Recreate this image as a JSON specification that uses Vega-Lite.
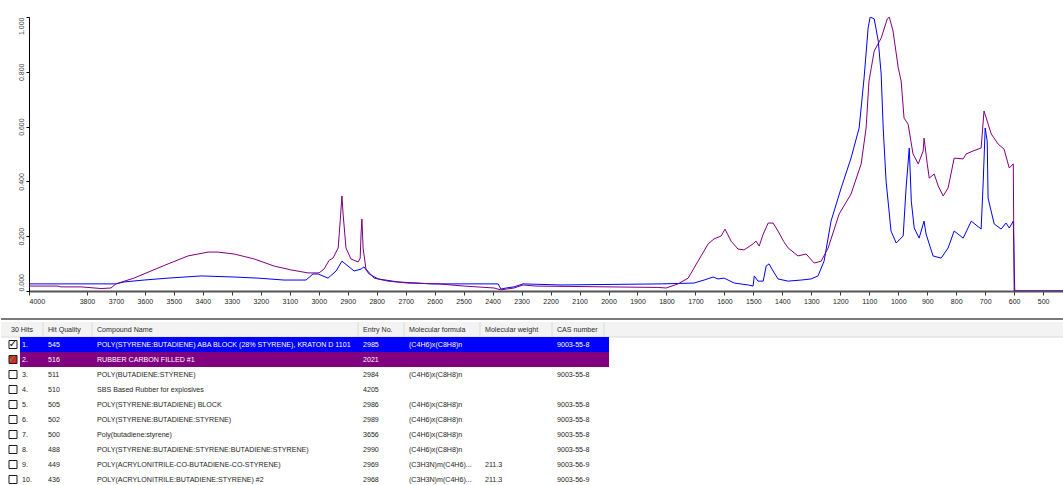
{
  "$schema": "https://vega.github.io/schema/vega-lite/v6.json",
  "background": "white",
  "padding": {"left": 0, "top": 16, "right": 0, "bottom": 0},
  "bounds": "full",
  "spacing": 14,
  "config": {
    "view": {"stroke": null},
    "font": "Liberation Sans",
    "text": {"font": "Liberation Sans", "fontSize": 7.1}
  },
  "datasets": {
    "spectra": [
      {"series": "hit1", "wavenumber": 4000, "absorbance": 0.026},
      {"series": "hit1", "wavenumber": 3751, "absorbance": 0.026},
      {"series": "hit1", "wavenumber": 3700, "absorbance": 0.026},
      {"series": "hit1", "wavenumber": 3672, "absorbance": 0.033},
      {"series": "hit1", "wavenumber": 3603, "absorbance": 0.040},
      {"series": "hit1", "wavenumber": 3520, "absorbance": 0.047},
      {"series": "hit1", "wavenumber": 3406, "absorbance": 0.055},
      {"series": "hit1", "wavenumber": 3292, "absorbance": 0.051},
      {"series": "hit1", "wavenumber": 3210, "absorbance": 0.047},
      {"series": "hit1", "wavenumber": 3120, "absorbance": 0.040},
      {"series": "hit1", "wavenumber": 3044, "absorbance": 0.040},
      {"series": "hit1", "wavenumber": 3020, "absorbance": 0.062},
      {"series": "hit1", "wavenumber": 3002, "absorbance": 0.062},
      {"series": "hit1", "wavenumber": 2968, "absorbance": 0.047},
      {"series": "hit1", "wavenumber": 2940, "absorbance": 0.073},
      {"series": "hit1", "wavenumber": 2920, "absorbance": 0.109},
      {"series": "hit1", "wavenumber": 2899, "absorbance": 0.091},
      {"series": "hit1", "wavenumber": 2878, "absorbance": 0.073},
      {"series": "hit1", "wavenumber": 2854, "absorbance": 0.080},
      {"series": "hit1", "wavenumber": 2844, "absorbance": 0.088},
      {"series": "hit1", "wavenumber": 2826, "absorbance": 0.062},
      {"series": "hit1", "wavenumber": 2795, "absorbance": 0.044},
      {"series": "hit1", "wavenumber": 2726, "absorbance": 0.033},
      {"series": "hit1", "wavenumber": 2612, "absorbance": 0.026},
      {"series": "hit1", "wavenumber": 2381, "absorbance": 0.026},
      {"series": "hit1", "wavenumber": 2371, "absorbance": 0.007},
      {"series": "hit1", "wavenumber": 2353, "absorbance": 0.011},
      {"series": "hit1", "wavenumber": 2326, "absorbance": 0.015},
      {"series": "hit1", "wavenumber": 2295, "absorbance": 0.026},
      {"series": "hit1", "wavenumber": 2164, "absorbance": 0.022},
      {"series": "hit1", "wavenumber": 1818, "absorbance": 0.026},
      {"series": "hit1", "wavenumber": 1705, "absorbance": 0.029},
      {"series": "hit1", "wavenumber": 1670, "absorbance": 0.040},
      {"series": "hit1", "wavenumber": 1639, "absorbance": 0.051},
      {"series": "hit1", "wavenumber": 1622, "absorbance": 0.044},
      {"series": "hit1", "wavenumber": 1601, "absorbance": 0.047},
      {"series": "hit1", "wavenumber": 1566, "absorbance": 0.029},
      {"series": "hit1", "wavenumber": 1518, "absorbance": 0.022},
      {"series": "hit1", "wavenumber": 1501, "absorbance": 0.018},
      {"series": "hit1", "wavenumber": 1497, "absorbance": 0.055},
      {"series": "hit1", "wavenumber": 1484, "absorbance": 0.036},
      {"series": "hit1", "wavenumber": 1466, "absorbance": 0.036},
      {"series": "hit1", "wavenumber": 1456, "absorbance": 0.091},
      {"series": "hit1", "wavenumber": 1446, "absorbance": 0.099},
      {"series": "hit1", "wavenumber": 1432, "absorbance": 0.073},
      {"series": "hit1", "wavenumber": 1415, "absorbance": 0.044},
      {"series": "hit1", "wavenumber": 1380, "absorbance": 0.036},
      {"series": "hit1", "wavenumber": 1335, "absorbance": 0.040},
      {"series": "hit1", "wavenumber": 1301, "absorbance": 0.044},
      {"series": "hit1", "wavenumber": 1277, "absorbance": 0.055},
      {"series": "hit1", "wavenumber": 1256, "absorbance": 0.109},
      {"series": "hit1", "wavenumber": 1232, "absorbance": 0.255},
      {"series": "hit1", "wavenumber": 1197, "absorbance": 0.376},
      {"series": "hit1", "wavenumber": 1163, "absorbance": 0.485},
      {"series": "hit1", "wavenumber": 1135, "absorbance": 0.595},
      {"series": "hit1", "wavenumber": 1118, "absorbance": 0.777},
      {"series": "hit1", "wavenumber": 1104, "absorbance": 0.960},
      {"series": "hit1", "wavenumber": 1097, "absorbance": 1.000},
      {"series": "hit1", "wavenumber": 1083, "absorbance": 0.993},
      {"series": "hit1", "wavenumber": 1069, "absorbance": 0.912},
      {"series": "hit1", "wavenumber": 1059, "absorbance": 0.792},
      {"series": "hit1", "wavenumber": 1052, "absorbance": 0.595},
      {"series": "hit1", "wavenumber": 1042, "absorbance": 0.401},
      {"series": "hit1", "wavenumber": 1025, "absorbance": 0.219},
      {"series": "hit1", "wavenumber": 1007, "absorbance": 0.175},
      {"series": "hit1", "wavenumber": 983, "absorbance": 0.201},
      {"series": "hit1", "wavenumber": 973, "absorbance": 0.376},
      {"series": "hit1", "wavenumber": 962, "absorbance": 0.522},
      {"series": "hit1", "wavenumber": 955, "absorbance": 0.328},
      {"series": "hit1", "wavenumber": 945, "absorbance": 0.230},
      {"series": "hit1", "wavenumber": 928, "absorbance": 0.193},
      {"series": "hit1", "wavenumber": 911, "absorbance": 0.255},
      {"series": "hit1", "wavenumber": 904, "absorbance": 0.208},
      {"series": "hit1", "wavenumber": 880, "absorbance": 0.128},
      {"series": "hit1", "wavenumber": 852, "absorbance": 0.120},
      {"series": "hit1", "wavenumber": 828, "absorbance": 0.157},
      {"series": "hit1", "wavenumber": 807, "absorbance": 0.219},
      {"series": "hit1", "wavenumber": 776, "absorbance": 0.193},
      {"series": "hit1", "wavenumber": 748, "absorbance": 0.255},
      {"series": "hit1", "wavenumber": 714, "absorbance": 0.226},
      {"series": "hit1", "wavenumber": 707, "absorbance": 0.394},
      {"series": "hit1", "wavenumber": 700, "absorbance": 0.595},
      {"series": "hit1", "wavenumber": 693, "absorbance": 0.547},
      {"series": "hit1", "wavenumber": 690, "absorbance": 0.339},
      {"series": "hit1", "wavenumber": 669, "absorbance": 0.245},
      {"series": "hit1", "wavenumber": 645, "absorbance": 0.226},
      {"series": "hit1", "wavenumber": 628, "absorbance": 0.248},
      {"series": "hit1", "wavenumber": 617, "absorbance": 0.230},
      {"series": "hit1", "wavenumber": 603, "absorbance": 0.255},
      {"series": "hit1", "wavenumber": 598, "absorbance": 0.000},
      {"series": "hit1", "wavenumber": 428, "absorbance": 0.000},
      {"series": "hit2", "wavenumber": 4000, "absorbance": 0.018},
      {"series": "hit2", "wavenumber": 3900, "absorbance": 0.018},
      {"series": "hit2", "wavenumber": 3890, "absorbance": 0.015},
      {"series": "hit2", "wavenumber": 3820, "absorbance": 0.015},
      {"series": "hit2", "wavenumber": 3751, "absorbance": 0.009},
      {"series": "hit2", "wavenumber": 3717, "absorbance": 0.011},
      {"series": "hit2", "wavenumber": 3700, "absorbance": 0.026},
      {"series": "hit2", "wavenumber": 3638, "absorbance": 0.047},
      {"series": "hit2", "wavenumber": 3579, "absorbance": 0.073},
      {"series": "hit2", "wavenumber": 3520, "absorbance": 0.099},
      {"series": "hit2", "wavenumber": 3451, "absorbance": 0.128},
      {"series": "hit2", "wavenumber": 3382, "absorbance": 0.142},
      {"series": "hit2", "wavenumber": 3348, "absorbance": 0.142},
      {"series": "hit2", "wavenumber": 3292, "absorbance": 0.135},
      {"series": "hit2", "wavenumber": 3223, "absorbance": 0.117},
      {"series": "hit2", "wavenumber": 3154, "absorbance": 0.091},
      {"series": "hit2", "wavenumber": 3096, "absorbance": 0.077},
      {"series": "hit2", "wavenumber": 3037, "absorbance": 0.066},
      {"series": "hit2", "wavenumber": 2999, "absorbance": 0.066},
      {"series": "hit2", "wavenumber": 2982, "absorbance": 0.080},
      {"series": "hit2", "wavenumber": 2964, "absorbance": 0.112},
      {"series": "hit2", "wavenumber": 2951, "absorbance": 0.120},
      {"series": "hit2", "wavenumber": 2933, "absorbance": 0.157},
      {"series": "hit2", "wavenumber": 2926, "absorbance": 0.255},
      {"series": "hit2", "wavenumber": 2920, "absorbance": 0.347},
      {"series": "hit2", "wavenumber": 2916, "absorbance": 0.281},
      {"series": "hit2", "wavenumber": 2906, "absorbance": 0.157},
      {"series": "hit2", "wavenumber": 2889, "absorbance": 0.117},
      {"series": "hit2", "wavenumber": 2864, "absorbance": 0.106},
      {"series": "hit2", "wavenumber": 2857, "absorbance": 0.120},
      {"series": "hit2", "wavenumber": 2854, "absorbance": 0.208},
      {"series": "hit2", "wavenumber": 2851, "absorbance": 0.263},
      {"series": "hit2", "wavenumber": 2847, "absorbance": 0.157},
      {"series": "hit2", "wavenumber": 2837, "absorbance": 0.080},
      {"series": "hit2", "wavenumber": 2809, "absorbance": 0.047},
      {"series": "hit2", "wavenumber": 2761, "absorbance": 0.036},
      {"series": "hit2", "wavenumber": 2692, "absorbance": 0.029},
      {"series": "hit2", "wavenumber": 2588, "absorbance": 0.026},
      {"series": "hit2", "wavenumber": 2498, "absorbance": 0.018},
      {"series": "hit2", "wavenumber": 2395, "absorbance": 0.011},
      {"series": "hit2", "wavenumber": 2371, "absorbance": 0.004},
      {"series": "hit2", "wavenumber": 2353, "absorbance": 0.007},
      {"series": "hit2", "wavenumber": 2326, "absorbance": 0.011},
      {"series": "hit2", "wavenumber": 2295, "absorbance": 0.022},
      {"series": "hit2", "wavenumber": 2250, "absorbance": 0.018},
      {"series": "hit2", "wavenumber": 1830, "absorbance": 0.013},
      {"series": "hit2", "wavenumber": 1801, "absorbance": 0.011},
      {"series": "hit2", "wavenumber": 1760, "absorbance": 0.026},
      {"series": "hit2", "wavenumber": 1725, "absorbance": 0.047},
      {"series": "hit2", "wavenumber": 1691, "absorbance": 0.109},
      {"series": "hit2", "wavenumber": 1656, "absorbance": 0.172},
      {"series": "hit2", "wavenumber": 1636, "absorbance": 0.190},
      {"series": "hit2", "wavenumber": 1611, "absorbance": 0.201},
      {"series": "hit2", "wavenumber": 1598, "absorbance": 0.226},
      {"series": "hit2", "wavenumber": 1577, "absorbance": 0.182},
      {"series": "hit2", "wavenumber": 1553, "absorbance": 0.153},
      {"series": "hit2", "wavenumber": 1532, "absorbance": 0.150},
      {"series": "hit2", "wavenumber": 1501, "absorbance": 0.172},
      {"series": "hit2", "wavenumber": 1491, "absorbance": 0.182},
      {"series": "hit2", "wavenumber": 1480, "absorbance": 0.164},
      {"series": "hit2", "wavenumber": 1466, "absorbance": 0.208},
      {"series": "hit2", "wavenumber": 1449, "absorbance": 0.248},
      {"series": "hit2", "wavenumber": 1432, "absorbance": 0.248},
      {"series": "hit2", "wavenumber": 1415, "absorbance": 0.219},
      {"series": "hit2", "wavenumber": 1395, "absorbance": 0.180},
      {"series": "hit2", "wavenumber": 1380, "absorbance": 0.157},
      {"series": "hit2", "wavenumber": 1346, "absorbance": 0.128},
      {"series": "hit2", "wavenumber": 1318, "absorbance": 0.135},
      {"series": "hit2", "wavenumber": 1290, "absorbance": 0.102},
      {"series": "hit2", "wavenumber": 1266, "absorbance": 0.109},
      {"series": "hit2", "wavenumber": 1242, "absorbance": 0.157},
      {"series": "hit2", "wavenumber": 1204, "absorbance": 0.281},
      {"series": "hit2", "wavenumber": 1163, "absorbance": 0.354},
      {"series": "hit2", "wavenumber": 1128, "absorbance": 0.464},
      {"series": "hit2", "wavenumber": 1111, "absorbance": 0.595},
      {"series": "hit2", "wavenumber": 1101, "absorbance": 0.766},
      {"series": "hit2", "wavenumber": 1083, "absorbance": 0.876},
      {"series": "hit2", "wavenumber": 1059, "absorbance": 0.923},
      {"series": "hit2", "wavenumber": 1038, "absorbance": 0.993},
      {"series": "hit2", "wavenumber": 1031, "absorbance": 1.000},
      {"series": "hit2", "wavenumber": 1018, "absorbance": 0.949},
      {"series": "hit2", "wavenumber": 1000, "absorbance": 0.814},
      {"series": "hit2", "wavenumber": 990, "absorbance": 0.766},
      {"series": "hit2", "wavenumber": 980, "absorbance": 0.631},
      {"series": "hit2", "wavenumber": 966, "absorbance": 0.609},
      {"series": "hit2", "wavenumber": 949, "absorbance": 0.500},
      {"series": "hit2", "wavenumber": 931, "absorbance": 0.464},
      {"series": "hit2", "wavenumber": 914, "absorbance": 0.511},
      {"series": "hit2", "wavenumber": 911, "absorbance": 0.558},
      {"series": "hit2", "wavenumber": 900, "absorbance": 0.464},
      {"series": "hit2", "wavenumber": 893, "absorbance": 0.412},
      {"series": "hit2", "wavenumber": 876, "absorbance": 0.427},
      {"series": "hit2", "wavenumber": 862, "absorbance": 0.383},
      {"series": "hit2", "wavenumber": 845, "absorbance": 0.347},
      {"series": "hit2", "wavenumber": 828, "absorbance": 0.376},
      {"series": "hit2", "wavenumber": 807, "absorbance": 0.485},
      {"series": "hit2", "wavenumber": 776, "absorbance": 0.482},
      {"series": "hit2", "wavenumber": 766, "absorbance": 0.500},
      {"series": "hit2", "wavenumber": 742, "absorbance": 0.511},
      {"series": "hit2", "wavenumber": 714, "absorbance": 0.522},
      {"series": "hit2", "wavenumber": 704, "absorbance": 0.657},
      {"series": "hit2", "wavenumber": 693, "absorbance": 0.620},
      {"series": "hit2", "wavenumber": 679, "absorbance": 0.573},
      {"series": "hit2", "wavenumber": 655, "absorbance": 0.536},
      {"series": "hit2", "wavenumber": 635, "absorbance": 0.518},
      {"series": "hit2", "wavenumber": 617, "absorbance": 0.449},
      {"series": "hit2", "wavenumber": 603, "absorbance": 0.464},
      {"series": "hit2", "wavenumber": 600, "absorbance": 0.000},
      {"series": "hit2", "wavenumber": 428, "absorbance": 0.000}
    ],
    "hits": [
      {"hit": 1, "quality": "545", "name": "POLY(STYRENE:BUTADIENE) ABA BLOCK (28% STYRENE), KRATON D 1101", "entry": "2985", "formula": "(C4H6)x(C8H8)n", "weight": "", "cas": "9003-55-8"},
      {"hit": 2, "quality": "516", "name": "RUBBER CARBON FILLED #1", "entry": "2021", "formula": "", "weight": "", "cas": ""},
      {"hit": 3, "quality": "511", "name": "POLY(BUTADIENE:STYRENE)", "entry": "2984", "formula": "(C4H6)x(C8H8)n", "weight": "", "cas": "9003-55-8"},
      {"hit": 4, "quality": "510", "name": "SBS Based Rubber for explosives", "entry": "4205", "formula": "", "weight": "", "cas": ""},
      {"hit": 5, "quality": "505", "name": "POLY(STYRENE:BUTADIENE) BLOCK", "entry": "2986", "formula": "(C4H6)x(C8H8)n", "weight": "", "cas": "9003-55-8"},
      {"hit": 6, "quality": "502", "name": "POLY(STYRENE:BUTADIENE:STYRENE)", "entry": "2989", "formula": "(C4H6)x(C8H8)n", "weight": "", "cas": "9003-55-8"},
      {"hit": 7, "quality": "500", "name": "Poly(butadiene:styrene)", "entry": "3656", "formula": "(C4H6)x(C8H8)n", "weight": "", "cas": "9003-55-8"},
      {"hit": 8, "quality": "488", "name": "POLY(STYRENE:BUTADIENE:STYRENE:BUTADIENE:STYRENE)", "entry": "2990", "formula": "(C4H6)x(C8H8)n", "weight": "", "cas": "9003-55-8"},
      {"hit": 9, "quality": "449", "name": "POLY(ACRYLONITRILE-CO-BUTADIENE-CO-STYRENE)", "entry": "2969", "formula": "(C3H3N)m(C4H6)...", "weight": "211.3", "cas": "9003-56-9"},
      {"hit": 10, "quality": "436", "name": "POLY(ACRYLONITRILE:BUTADIENE:STYRENE) #2", "entry": "2968", "formula": "(C3H3N)m(C4H6)...", "weight": "211.3", "cas": "9003-56-9"}
    ],
    "columns": [
      {"key": "hits", "slot": 0, "label": "30 Hits"},
      {"key": "quality", "slot": 2, "label": "Hit Quality"},
      {"key": "name", "slot": 3, "label": "Compound Name"},
      {"key": "entry", "slot": 4, "label": "Entry No."},
      {"key": "formula", "slot": 5, "label": "Molecular formula"},
      {"key": "weight", "slot": 6, "label": "Molecular weight"},
      {"key": "cas", "slot": 7, "label": "CAS number"},
      {"key": "end", "slot": 8, "label": ""}
    ]
  },
  "vconcat": [
    {
      "width": 1035,
      "height": 274,
      "data": {"name": "spectra"},
      "mark": {"type": "line", "strokeWidth": 1, "clip": true},
      "encoding": {
        "x": {
          "field": "wavenumber",
          "type": "quantitative",
          "scale": {"domain": [4000, 428], "nice": false, "zero": false},
          "axis": {
            "title": null,
            "grid": false,
            "values": [4000, 3800, 3700, 3600, 3500, 3400, 3300, 3200, 3100, 3000, 2900, 2800, 2700, 2600, 2500, 2400, 2300, 2200, 2100, 2000, 1900, 1800, 1700, 1600, 1500, 1400, 1300, 1200, 1100, 1000, 900, 800, 700, 600, 500],
            "format": "d",
            "labelFlush": true,
            "labelOverlap": false,
            "labelFontSize": 7,
            "labelColor": "#222222",
            "labelPadding": 2,
            "tickSize": 4,
            "tickColor": "#333333",
            "domainColor": "#555555",
            "domainWidth": 2
          }
        },
        "y": {
          "field": "absorbance",
          "type": "quantitative",
          "scale": {"domain": [0, 1], "nice": false},
          "axis": {
            "title": null,
            "grid": false,
            "values": [0, 0.2, 0.4, 0.6, 0.8, 1],
            "format": ".3f",
            "labelAngle": -90,
            "labelAlign": {"condition": [{"test": "datum.value >= 0.99", "value": "right"}, {"test": "datum.value <= 0.01", "value": "left"}], "value": "center"},
            "labelBaseline": "bottom",
            "labelFontSize": 7,
            "labelColor": "#444444",
            "labelPadding": 2,
            "tickSize": 3,
            "tickColor": "#000000",
            "domainColor": "#000000",
            "minExtent": 28,
            "maxExtent": 28
          }
        },
        "color": {
          "field": "series",
          "type": "nominal",
          "scale": {"domain": ["hit1", "hit2"], "range": ["#0000ff", "#800080"]},
          "legend": null
        }
      }
    },
    {
      "width": 1035,
      "height": 165,
      "data": {"name": "hits"},
      "layer": [
        {
          "data": {"name": "columns"},
          "transform": [{"filter": "datum.slot === 0"}],
          "mark": {"type": "rect", "fill": "#f3f3f3"},
          "encoding": {
            "x": {"datum": -1, "type": "quantitative", "scale": {"domain": [-1, 0, 1, 2, 3, 4, 5, 6, 7, 8, 9], "range": [-28, -18, -9, 19, 68, 334, 380, 456, 528, 580, 1035]}, "axis": null},
            "x2": {"datum": 9},
            "y": {"datum": "hdr", "type": "ordinal", "scale": {"type": "band", "domain": ["hdr", 1, 2, 3, 4, 5, 6, 7, 8, 9, 10], "paddingInner": 0, "paddingOuter": 0}, "axis": null}
          }
        },
        {
          "data": {"name": "columns"},
          "transform": [{"filter": "datum.slot === 0"}],
          "mark": {"type": "rule", "color": "#dadada", "strokeWidth": 1},
          "encoding": {
            "x": {"datum": -1, "type": "quantitative"},
            "x2": {"datum": 9},
            "y": {"datum": "hdr", "type": "ordinal", "bandPosition": 1}
          }
        },
        {
          "data": {"name": "columns"},
          "transform": [{"filter": "datum.slot === 0"}],
          "mark": {"type": "rule", "color": "#7a7a7a", "strokeWidth": 2, "yOffset": -3},
          "encoding": {
            "x": {"datum": -1, "type": "quantitative"},
            "x2": {"datum": 9},
            "y": {"datum": "hdr", "type": "ordinal", "bandPosition": 0}
          }
        },
        {
          "data": {"name": "columns"},
          "transform": [{"filter": "datum.slot >= 2"}],
          "mark": {"type": "tick", "orient": "vertical", "color": "#d2d2d2", "thickness": 1, "size": 15, "xOffset": -5},
          "encoding": {
            "x": {"field": "slot", "type": "quantitative"},
            "y": {"datum": "hdr", "type": "ordinal"}
          }
        },
        {
          "data": {"name": "columns"},
          "mark": {"type": "text", "align": "left", "baseline": "middle", "color": "#2a2a2a"},
          "encoding": {
            "x": {"field": "slot", "type": "quantitative"},
            "y": {"datum": "hdr", "type": "ordinal"},
            "text": {"field": "label"}
          }
        },
        {
          "transform": [{"filter": "datum.hit <= 2"}],
          "mark": {"type": "rect"},
          "encoding": {
            "x": {"datum": 1, "type": "quantitative"},
            "x2": {"datum": 8},
            "y": {"field": "hit", "type": "ordinal"},
            "fill": {"field": "hit", "type": "nominal", "scale": {"domain": [1, 2], "range": ["#0000ff", "#800080"]}, "legend": null}
          }
        },
        {
          "mark": {"type": "point", "shape": "square", "filled": true, "size": 64, "opacity": 1, "stroke": "#1a1a1a", "strokeWidth": 1, "xOffset": 2},
          "encoding": {
            "x": {"datum": 0, "type": "quantitative"},
            "y": {"field": "hit", "type": "ordinal"},
            "fill": {"condition": {"test": "datum.hit === 2", "value": "#e3242b"}, "value": "#ffffff"}
          }
        },
        {
          "transform": [{"filter": "datum.hit <= 2"}],
          "mark": {"type": "text", "text": "✓", "font": "DejaVu Sans", "fontSize": 10, "fontWeight": "bold", "align": "center", "baseline": "middle", "xOffset": 2, "yOffset": -1},
          "encoding": {
            "x": {"datum": 0, "type": "quantitative"},
            "y": {"field": "hit", "type": "ordinal"},
            "color": {"condition": {"test": "datum.hit === 2", "value": "#22b222"}, "value": "#000000"}
          }
        },
        {
          "mark": {"type": "text", "align": "left", "baseline": "middle", "dx": 2, "text": {"expr": "datum.hit + '.'"}},
          "encoding": {
            "x": {"datum": 1, "type": "quantitative"},
            "y": {"field": "hit", "type": "ordinal"},
            "color": {"condition": {"test": "datum.hit <= 2", "value": "#ffffff"}, "value": "#1e1e1e"}
          }
        },
        {
          "transform": [
            {"fold": ["quality", "name", "entry", "formula", "weight", "cas"], "as": ["column", "value"]},
            {"lookup": "column", "from": {"data": {"name": "columns"}, "key": "key", "fields": ["slot"]}}
          ],
          "mark": {"type": "text", "align": "left", "baseline": "middle"},
          "encoding": {
            "x": {"field": "slot", "type": "quantitative"},
            "y": {"field": "hit", "type": "ordinal"},
            "text": {"field": "value"},
            "color": {"condition": {"test": "datum.hit <= 2", "value": "#ffffff"}, "value": "#1e1e1e"}
          }
        }
      ]
    }
  ]
}
